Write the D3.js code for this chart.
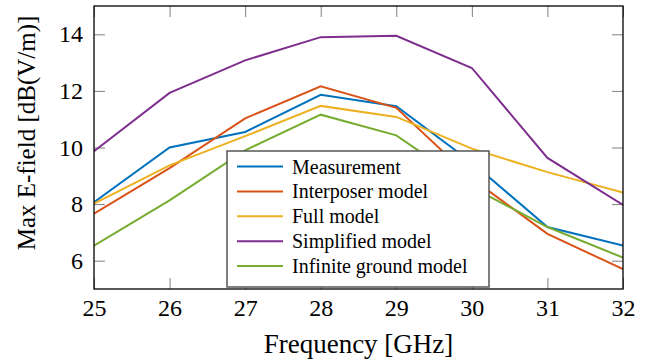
<!DOCTYPE html>
<html>
<head>
<meta charset="utf-8">
<script src="https://cdn.jsdelivr.net/npm/d3@7"></script>
<style>
  body { margin: 0; background: #fff; }
  svg { display: block; }
  svg text { font-family: "Liberation Serif", "DejaVu Serif", serif; }
</style>
</head>
<body>
<div id="chart"></div>
<script>
// frequencies in GHz
var freqs = [25, 26, 27, 28, 29, 30, 31, 32];

// max E-field values, dB(V/m)
var measurement = [8.07, 10.0, 10.55, 11.86, 11.46, 9.47, 7.19, 6.54];
var interposer  = [7.66, 9.27, 11.03, 12.16, 11.40, 8.9, 6.95, 5.70];
var fullModel   = [8.02, 9.37, 10.40, 11.47, 11.08, 9.96, 9.13, 8.41];
var simplified  = [9.87, 11.93, 13.08, 13.90, 13.95, 12.81, 9.63, 7.97];
var infGround   = [6.53, 8.13, 9.90, 11.16, 10.43, 8.6, 7.19, 6.11];

var seriesNames = ['Measurement', 'Interposer model', 'Full model', 'Simplified model', 'Infinite ground model'];
var seriesColors = ['#0072BD', '#D95319', '#EDB120', '#7E2F8E', '#77AC30'];
var yTicks = [6, 8, 10, 12, 14];

var allSeries = [measurement, interposer, fullModel, simplified, infGround];

var fullWidth = 647, fullHeight = 362;
var margin = {top: 6, right: 24, bottom: 73, left: 94};
var width = fullWidth - margin.left - margin.right;
var height = fullHeight - margin.top - margin.bottom;

var svg = d3.select('#chart').append('svg')
  .attr('width', fullWidth)
  .attr('height', fullHeight);

var g = svg.append('g')
  .attr('transform', 'translate(' + margin.left + ',' + margin.top + ')');

var x = d3.scaleLinear().domain([25, 32]).range([0, width]);
var y = d3.scaleLinear().domain([5, 15]).range([height, 0]);

var tickLen = 11;
var tickColor = '#808080';

// axes with inward ticks, mirrored on top/right
var xAxis = d3.axisBottom(x).tickValues(freqs).tickSize(-tickLen).tickPadding(10).tickFormat(d3.format('d'));
var xAxisTop = d3.axisTop(x).tickValues(freqs).tickSize(-tickLen).tickFormat('');
var yAxis = d3.axisLeft(y).tickValues(yTicks).tickSize(-tickLen).tickPadding(11).tickFormat(d3.format('d'));
var yAxisRight = d3.axisRight(y).tickValues(yTicks).tickSize(-tickLen).tickFormat('');

function styleAxis(sel) {
  sel.attr('font-family', null).attr('font-size', null);
  sel.select('.domain').remove();
  sel.selectAll('.tick line').attr('stroke', tickColor).attr('stroke-width', 1);
  sel.selectAll('.tick text')
    .attr('fill', '#000')
    .style('font-size', '24px');
}

g.append('g').attr('transform', 'translate(0,' + height + ')').call(xAxis).call(styleAxis);
g.append('g').call(xAxisTop).call(styleAxis);
g.append('g').call(yAxis).call(styleAxis);
g.append('g').attr('transform', 'translate(' + width + ',0)').call(yAxisRight).call(styleAxis);

// clip lines to the plot area
g.append('clipPath').attr('id', 'plotclip')
  .append('rect').attr('width', width).attr('height', height);

var line = d3.line()
  .x(function(d, i) { return x(freqs[i]); })
  .y(function(d) { return y(d); });

var lineHolder = g.append('g').attr('clip-path', 'url(#plotclip)');
lineHolder.selectAll('path.series')
  .data(allSeries)
  .enter()
  .append('path')
  .classed('series', true)
  .attr('d', line)
  .attr('fill', 'none')
  .attr('stroke', function(d, i) { return seriesColors[i]; })
  .attr('stroke-width', 2)
  .attr('stroke-linejoin', 'miter');

// frame
g.append('rect')
  .attr('width', width)
  .attr('height', height)
  .attr('fill', 'none')
  .attr('stroke', '#000')
  .attr('stroke-width', 1.3);

// legend
var legend = g.append('g').attr('transform', 'translate(' + (227 - margin.left) + ',' + (151 - margin.top) + ')');
legend.append('rect')
  .attr('width', 262)
  .attr('height', 136)
  .attr('fill', '#fff')
  .attr('stroke', '#555')
  .attr('stroke-width', 1.5);

var rows = legend.selectAll('g.row')
  .data(seriesNames)
  .enter()
  .append('g')
  .classed('row', true)
  .attr('transform', function(d, i) { return 'translate(0,' + (15.5 + i * 24.9) + ')'; });

rows.append('line')
  .attr('x1', 10).attr('x2', 56)
  .attr('y1', 0).attr('y2', 0)
  .attr('stroke', function(d, i) { return seriesColors[i]; })
  .attr('stroke-width', 2);

rows.append('text')
  .attr('x', 65)
  .attr('y', 7)
  .style('font-size', '20px')
  .text(function(d) { return d; });

// axis labels
svg.append('text')
  .attr('x', margin.left + width / 2)
  .attr('y', 353)
  .attr('text-anchor', 'middle')
  .style('font-size', '27px')
  .text('Frequency [GHz]');

svg.append('text')
  .attr('transform', 'translate(35,133) rotate(-90)')
  .attr('text-anchor', 'middle')
  .style('font-size', '25px')
  .text('Max E-field [dB(V/m)]');
</script>
</body>
</html>
